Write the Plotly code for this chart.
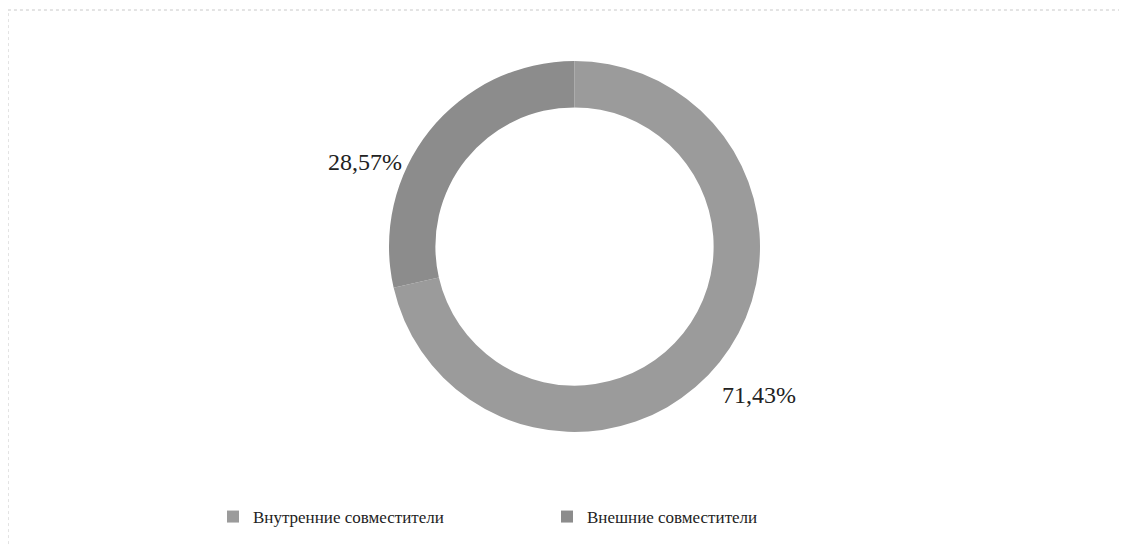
import plotly.graph_objects as go

labels = ["Внутренние совместители", "Внешние совместители"]
values = [71.43, 28.57]
colors = ["#9b9b9b", "#8c8c8c"]

W, H = 1127, 545
OFF = 8  # page body margin in the rendered html
FONT = "Liberation Serif, Times New Roman, serif"

def fx(px):
    return (px - OFF) / W

def fy(py):
    return 1 - (py - OFF) / H

fig = go.Figure()
fig.add_trace(go.Pie(
    labels=labels,
    values=values,
    hole=0.75,
    sort=False,
    direction="clockwise",
    rotation=0,
    marker=dict(colors=colors, line=dict(width=0)),
    textinfo="none",
    hoverinfo="label+percent",
    domain=dict(x=[fx(338), fx(811)], y=[fy(432), fy(61)]),
))

def fmt(v):
    return f"{v:.2f}%".replace(".", ",")

# value labels placed outside the ring
label_pos = {1: (365, 162), 0: (759, 395)}
for i, v in enumerate(values):
    px, py = label_pos[i]
    fig.add_annotation(
        x=fx(px), y=fy(py), xref="paper", yref="paper",
        text=fmt(v), showarrow=False, xanchor="center", yanchor="middle",
        font=dict(family=FONT, size=24, color="#222222"),
    )

# light dotted chart border
fig.add_shape(type="rect", xref="paper", yref="paper",
              x0=fx(8), x1=1.05, y0=-0.05, y1=fy(10),
              line=dict(color="#c8c8c8", width=1, dash="dot"))

fig.update_layout(
    width=W, height=H,
    margin=dict(l=0, r=0, t=0, b=0),
    paper_bgcolor="white",
    plot_bgcolor="white",
    font=dict(family=FONT, size=17, color="#222222"),
    showlegend=True,
    legend=dict(
        orientation="h",
        x=fx(253 - 40), xanchor="left",
        y=fy(517), yanchor="middle",
        entrywidth=289, entrywidthmode="pixels",
        font=dict(family=FONT, size=17, color="#222222"),
        itemclick=False, itemdoubleclick=False,
    ),
)

fig.write_html("out.html")
